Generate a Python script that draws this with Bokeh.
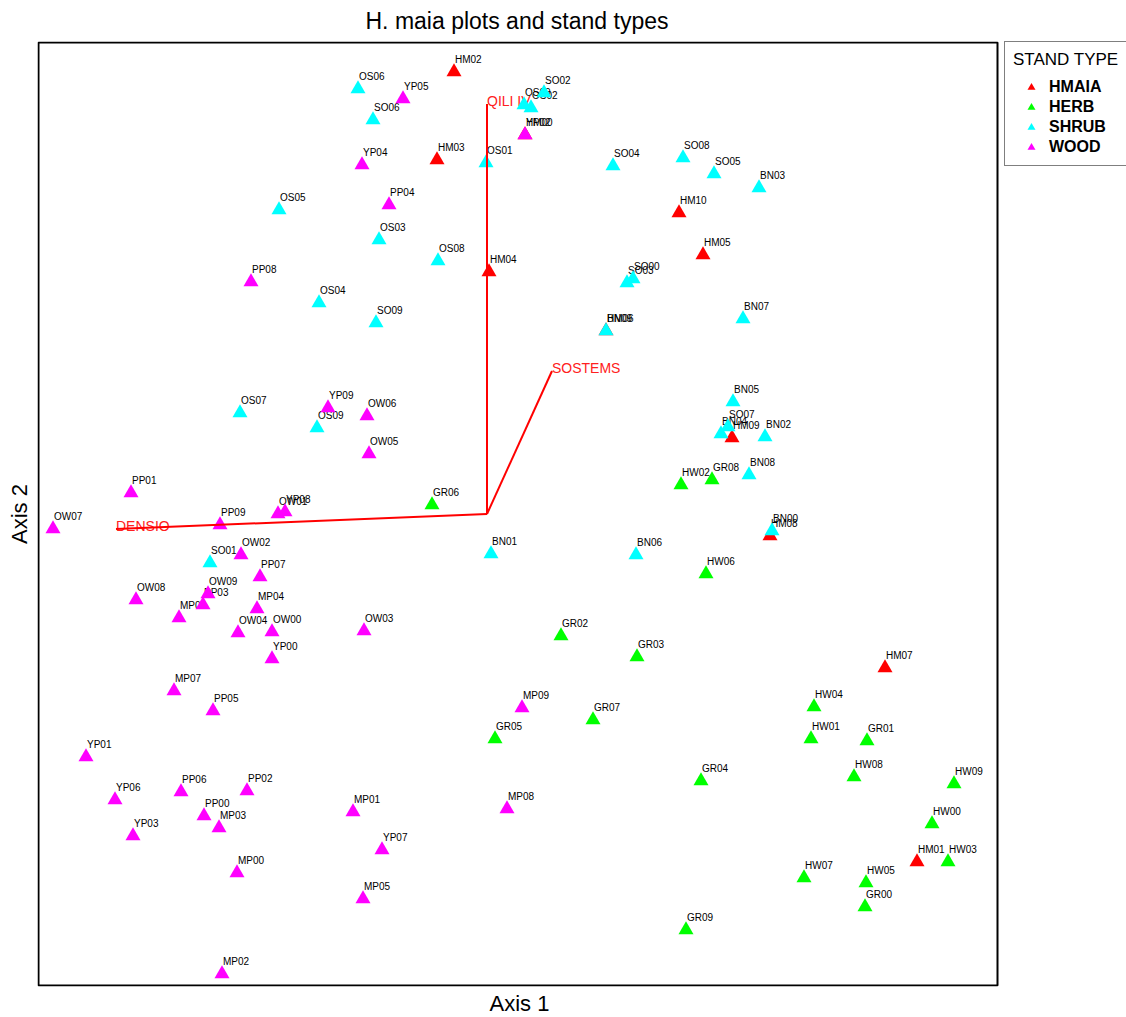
from bokeh.plotting import figure
from bokeh.models import ColumnDataSource, Range1d, Title, Legend, LegendItem, BoxAnnotation
from bokeh.embed import file_html
from bokeh.resources import INLINE
from bokeh.core.properties import value

FONT = "Liberation Sans"

# ---- site scores (Axis 1, Axis 2) by stand type ----
hm_names = ["HM00", "HM01", "HM02", "HM03", "HM04", "HM05", "HM06", "HM07", "HM08", "HM09", "HM10"]
hm_ax1 = [0.38, 4.30, -0.33, -0.50, 0.02, 2.16, 1.19, 3.98, 2.83, 2.45, 1.92]
hm_ax2 = [3.79, -3.48, 4.42, 3.54, 2.42, 2.59, 1.83, -1.54, -0.22, 0.76, 3.01]

herb_names = ["GR00", "GR01", "GR02", "GR03", "GR04", "GR05", "GR06", "GR07", "GR08", "GR09",
              "HW00", "HW01", "HW02", "HW03", "HW04", "HW05", "HW06", "HW07", "HW08", "HW09"]
herb_ax1 = [3.78, 3.80, 0.74, 1.50, 2.14, 0.08, -0.55, 1.06, 2.25, 1.99,
            4.45, 3.24, 1.94, 4.61, 3.27, 3.79, 2.19, 3.17, 3.67, 4.67]
herb_ax2 = [-3.93, -2.27, -1.22, -1.43, -2.67, -2.25, 0.09, -2.06, 0.34, -4.16,
            -3.10, -2.25, 0.29, -3.48, -1.93, -3.69, -0.60, -3.64, -2.63, -2.70]

shrub_names = ["BN00", "BN01", "BN02", "BN03", "BN04", "BN05", "BN06", "BN07", "BN08", "BN09",
               "OS00", "OS01", "OS02", "OS03", "OS04", "OS05", "OS06", "OS07", "OS08", "OS09",
               "SO00", "SO01", "SO02", "SO03", "SO04", "SO05", "SO06", "SO07", "SO08", "SO09"]
shrub_ax1 = [2.85, 0.04, 2.78, 2.72, 2.34, 2.46, 1.49, 2.56, 2.62, 1.19,
             0.37, -0.01, 0.44, -1.08, -1.68, -2.08, -1.29, -2.47, -0.49, -1.70,
             1.46, -2.77, 0.57, 1.40, 1.26, 2.27, -1.14, 2.41, 1.96, -1.11]
shrub_ax2 = [-0.17, -0.40, 0.77, 3.26, 0.80, 1.12, -0.41, 1.95, 0.39, 1.83,
             4.09, 3.51, 4.06, 2.74, 2.11, 3.04, 4.25, 1.01, 2.53, 0.86,
             2.35, -0.49, 4.21, 2.31, 3.48, 3.40, 3.94, 0.87, 3.56, 1.91]

wood_names = ["MP00", "MP01", "MP02", "MP03", "MP04", "MP05", "MP06", "MP07", "MP08", "MP09",
              "OW00", "OW01", "OW02", "OW03", "OW04", "OW05", "OW06", "OW07", "OW08", "OW09",
              "PP00", "PP01", "PP02", "PP03", "PP04", "PP05", "PP06", "PP07", "PP08", "PP09",
              "YP00", "YP01", "YP02", "YP03", "YP04", "YP05", "YP06", "YP07", "YP08", "YP09"]
wood_ax1 = [-2.50, -1.34, -2.65, -2.68, -2.30, -1.24, -3.08, -3.13, 0.20, 0.35,
            -2.15, -2.09, -2.46, -1.23, -2.49, -1.18, -1.20, -4.34, -3.51, -2.79,
            -2.83, -3.56, -2.40, -2.84, -0.98, -2.74, -3.06, -2.27, -2.36, -2.67,
            -2.15, -4.01, 0.38, -3.54, -1.25, -0.84, -3.72, -1.05, -2.02, -1.59]
wood_ax2 = [-3.59, -2.98, -4.60, -3.14, -0.95, -3.85, -1.04, -1.77, -2.95, -1.94,
            -1.18, 0.00, -0.41, -1.17, -1.19, 0.60, 0.98, -0.15, -0.86, -0.80,
            -3.02, 0.21, -2.77, -0.91, 3.09, -1.97, -2.78, -0.63, 2.32, -0.11,
            -1.45, -2.43, 3.79, -3.22, 3.49, 4.15, -2.86, -3.36, 0.02, 1.06]

# ---- environmental vectors (biplot arrows) ----
env_names = ["QILI IV", "DENSIO", "SOSTEMS"]
env_ax1 = [0.00, -3.71, 0.65]
env_ax2 = [4.10, -0.15, 1.43]

# plot box limits (ordination space)
ax1_lim = [-4.485, 5.105]
ax2_lim = [-4.715, 4.715]

groups = [
    ("HMAIA", hm_names, hm_ax1, hm_ax2, "#FF0000"),
    ("HERB", herb_names, herb_ax1, herb_ax2, "#00FF00"),
    ("SHRUB", shrub_names, shrub_ax1, shrub_ax2, "#00FFFF"),
    ("WOOD", wood_names, wood_ax1, wood_ax2, "#FF00FF"),
]

# frame runs on to the right edge so the legend (outside the plot box) is not clipped
p = figure(width=1126, height=1017,
           x_range=Range1d(ax1_lim[0] - 0.01, ax1_lim[0] - 0.01 + 10.89),
           y_range=Range1d(ax2_lim[0] - 0.01, ax2_lim[1] + 0.01),
           x_axis_location=None, y_axis_location=None,
           output_backend="svg", toolbar_location=None,
           min_border_left=37, min_border_right=0,
           min_border_top=41, min_border_bottom=31)
p.grid.visible = False
p.outline_line_color = None
p.background_fill_color = "white"
p.border_fill_color = "white"

p.title = Title(text="H. maia plots and stand types", align="left", offset=328,
                vertical_align="top",
                text_font=FONT, text_font_size="23px", text_font_style="normal",
                text_color="black", standoff=12)
p.add_layout(Title(text="Axis 1", align="left", offset=452, text_font=FONT,
                   text_font_size="22px", text_font_style="normal",
                   text_color="black", standoff=4), "below")
p.add_layout(Title(text="Axis 2", align="center", vertical_align="top", text_font=FONT,
                   text_font_size="22px", text_font_style="normal",
                   text_color="black", standoff=8), "left")

# the plot box
p.add_layout(BoxAnnotation(left=ax1_lim[0], right=ax1_lim[1], bottom=ax2_lim[0], top=ax2_lim[1],
                           fill_color=None, fill_alpha=0, line_color="black",
                           line_alpha=1.0, line_width=2, level="underlay"))

# point labels (drawn first, so triangles overlap them as in the original)
all_names, all_x, all_y = [], [], []
for _, n, xs, ys, _c in groups:
    all_names += n
    all_x += xs
    all_y += ys
lab_src = ColumnDataSource(dict(x=all_x, y=all_y, t=all_names))
p.text(x="x", y="y", text="t", source=lab_src, text_font=value(FONT),
       text_font_size="10px", text_color="black", text_align="left",
       text_baseline="alphabetic", x_offset=1, y_offset=-13)

env_src = ColumnDataSource(dict(x0=[0.0] * len(env_names), y0=[0.0] * len(env_names),
                                x=env_ax1, y=env_ax2, t=env_names))
p.text(x="x", y="y", text="t", source=env_src, text_font=value(FONT),
       text_font_size="14px", text_color="#FF2020", text_align="left",
       text_baseline="alphabetic", x_offset=0, y_offset=-3)

renderers = {}
for name, n, xs, ys, col in groups:
    src = ColumnDataSource(dict(x=xs, y=ys, t=n))
    r = p.scatter(x="x", y="y", source=src, marker="triangle", size=15,
                  fill_color=col, line_color=None)
    renderers[name] = r

p.segment(x0="x0", y0="y0", x1="x", y1="y", source=env_src,
          line_color="#FF0000", line_width=2)

legend = Legend(items=[LegendItem(label=g[0], renderers=[renderers[g[0]]]) for g in groups],
                title="STAND TYPE", location=(967, 820), margin=0,
                padding=8, spacing=0, glyph_width=36, glyph_height=20,
                label_standoff=0, label_width=110, title_standoff=7,
                title_text_font=FONT, title_text_font_size="17px",
                title_text_font_style="normal", title_text_color="black",
                label_text_font=FONT, label_text_font_size="16px",
                label_text_font_style="bold", label_text_color="black",
                border_line_color="black", border_line_width=1,
                background_fill_color="white", background_fill_alpha=1.0)
p.add_layout(legend)

open("out.html", "w").write(file_html(p, INLINE))
